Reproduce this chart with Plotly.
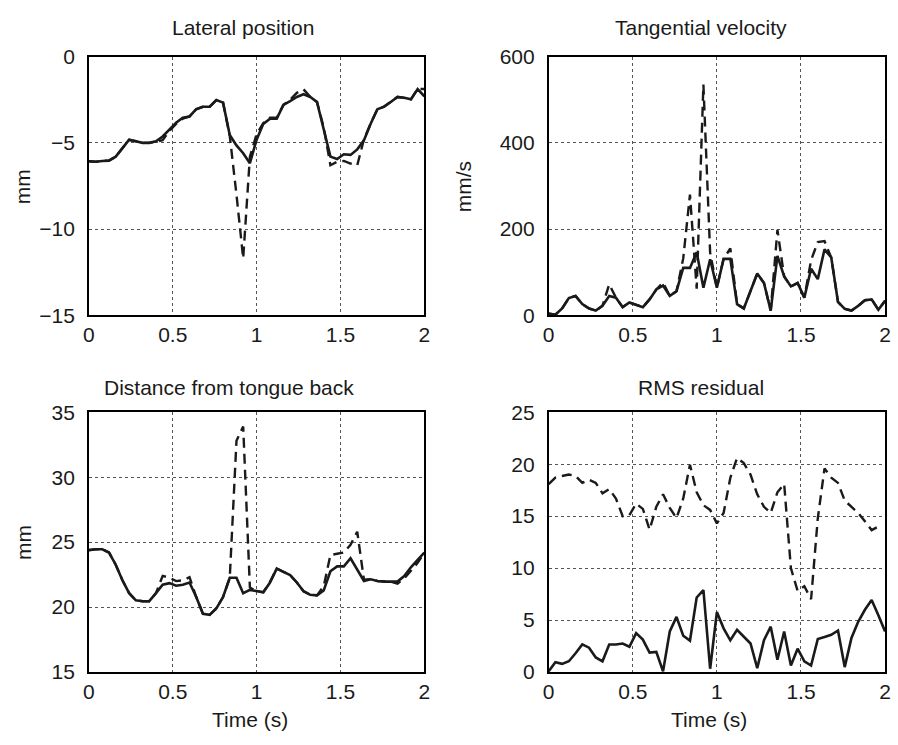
import plotly.graph_objects as go

W, H = 898, 745

time_s = [0.00, 0.04, 0.08, 0.12, 0.16, 0.20, 0.24, 0.28, 0.32, 0.36,
          0.40, 0.44, 0.48, 0.52, 0.56, 0.60, 0.64, 0.68, 0.72, 0.76,
          0.80, 0.84, 0.88, 0.92, 0.96, 1.00, 1.04, 1.08, 1.12, 1.16,
          1.20, 1.24, 1.28, 1.32, 1.36, 1.40, 1.44, 1.48, 1.52, 1.56,
          1.60, 1.64, 1.68, 1.72, 1.76, 1.80, 1.84, 1.88, 1.92, 1.96, 2.00]

lateral_solid = [-6.07, -6.10, -6.05, -6.03, -5.80, -5.29, -4.82, -4.91, -5.00, -5.00,
                 -4.91, -4.63, -4.20, -3.83, -3.55, -3.47, -3.05, -2.91, -2.91, -2.52,
                 -2.67, -4.54, -5.15, -5.60, -6.18, -4.82, -3.90, -3.60, -3.60, -2.80,
                 -2.58, -2.34, -2.18, -2.34, -2.63, -4.17, -5.80, -5.94, -5.66, -5.70,
                 -5.38, -4.85, -3.89, -3.05, -2.90, -2.63, -2.34, -2.39, -2.48, -1.88, -2.30]
lateral_dashed = [-6.07, -6.10, -6.05, -6.03, -5.80, -5.29, -4.82, -4.91, -5.00, -5.00,
                  -4.91, -4.85, -4.30, -3.90, -3.60, -3.47, -3.05, -2.91, -2.91, -2.52,
                  -2.67, -4.60, -8.00, -11.70, -5.80, -4.50, -3.85, -3.55, -3.55, -2.80,
                  -2.50, -2.10, -1.90, -2.34, -2.63, -4.10, -6.30, -6.10, -6.05, -6.20,
                  -6.30, -4.80, -3.89, -3.05, -2.90, -2.60, -2.34, -2.39, -2.48, -1.88, -1.88]

velocity_solid = [4, 1.5, 16, 40, 45, 26, 16, 11, 22, 45,
                  41, 19, 30, 25, 19, 37, 60, 69, 45, 56,
                  110, 110, 146, 64, 130, 64, 131, 131, 26, 16,
                  56, 97, 75, 11, 138, 90, 67, 75, 41, 108,
                  84, 153, 134, 31, 15, 11, 22, 35, 37, 13, 34]
velocity_dashed = [4, 1.5, 16, 40, 45, 26, 16, 11, 22, 72,
                   41, 19, 30, 25, 19, 37, 60, 76, 45, 56,
                   132, 280, 62, 535, 145, 64, 131, 155, 26, 16,
                   56, 97, 75, 11, 198, 90, 67, 75, 41, 128,
                   170, 172, 134, 31, 15, 11, 22, 35, 37, 13, 34]

distance_solid = [24.38, 24.45, 24.45, 24.20, 23.26, 22.06, 21.07, 20.52, 20.45, 20.45,
                  21.07, 21.72, 21.84, 21.64, 21.72, 21.89, 20.77, 19.48, 19.40, 19.90,
                  20.77, 22.26, 22.26, 21.07, 21.32, 21.22, 21.14, 21.89, 22.96, 22.71,
                  22.46, 21.89, 21.22, 20.94, 20.90, 21.27, 22.76, 23.13, 23.13, 23.76,
                  22.89, 22.01, 22.14, 22.01, 21.96, 21.96, 21.96, 22.39, 23.06, 23.63, 24.20]
distance_dashed = [24.38, 24.45, 24.45, 24.20, 23.26, 22.06, 21.07, 20.52, 20.45, 20.45,
                   21.07, 22.40, 22.26, 22.00, 22.06, 22.30, 20.77, 19.48, 19.40, 19.90,
                   20.77, 22.26, 32.80, 33.90, 21.50, 21.22, 21.14, 21.95, 22.96, 22.71,
                   22.46, 21.89, 21.22, 20.94, 20.90, 21.60, 24.00, 24.10, 24.20, 24.80,
                   25.80, 22.10, 22.14, 22.01, 21.96, 21.96, 21.80, 22.20, 22.80, 23.40, 24.20]

rms_solid = [0.06, 0.94, 0.78, 1.03, 1.80, 2.65, 2.34, 1.40, 1.03, 2.65,
             2.65, 2.74, 2.43, 3.74, 3.12, 1.87, 1.93, 0.06, 3.90, 5.30,
             3.49, 3.02, 7.17, 7.89, 0.31, 5.77, 4.20, 3.05, 4.05, 3.43,
             2.74, 0.37, 3.05, 4.36, 1.18, 3.90, 0.62, 2.24, 1.03, 0.62,
             3.18, 3.37, 3.58, 3.99, 0.47, 3.27, 4.83, 5.99, 6.92, 5.46, 3.90]
rms_dashed = [18.08, 18.70, 18.86, 19.00, 18.86, 18.20, 18.50, 18.20, 17.20, 17.60,
              16.70, 15.00, 15.10, 16.20, 15.70, 13.70, 15.90, 17.10, 15.80, 14.80,
              16.70, 19.95, 17.30, 16.05, 15.60, 14.30, 15.30, 18.70, 20.60, 20.10,
              19.00, 17.10, 15.90, 15.30, 17.30, 18.10, 10.00, 7.80, 8.26, 7.00,
              14.80, 19.60, 18.70, 18.20, 16.50, 15.90, 15.30, 14.50, 13.65, 14.00, None]

panel_titles = ["Lateral position", "Tangential velocity",
                "Distance from tongue back", "RMS residual"]
y_ranges = [[-15, 0], [0, 600], [15, 35], [0, 25]]
y_dticks = [5, 200, 5, 5]
x_ticks = [0, 0.5, 1, 1.5, 2]
x_tick_labels = ["0", "0.5", "1", "1.5", "2"]
y_titles = ["mm", "mm/s", "mm", ""]
x_title = "Time (s)"

series = [(lateral_solid, lateral_dashed), (velocity_solid, velocity_dashed),
          (distance_solid, distance_dashed), (rms_solid, rms_dashed)]

# plot-area pixel boxes (left, right, top, bottom)
boxes = [(84, 424, 46, 313), (550, 891, 46, 313),
         (84, 424, 413, 681), (550, 891, 413, 681)]

FONT = "Liberation Sans, Arial, Helvetica, sans-serif"
INK = "#1a1a1a"
FS = 21

fig = go.Figure()
layout = dict(width=W, height=H, margin=dict(l=0, r=0, t=0, b=0),
              paper_bgcolor="white", plot_bgcolor="white",
              showlegend=False, font=dict(family=FONT, size=FS, color=INK))

annotations = []
for i, ((solid, dashed), box) in enumerate(zip(series, boxes)):
    n = "" if i == 0 else str(i + 1)
    l, r, t, b = box
    layout["xaxis" + n] = dict(
        domain=[l / W, r / W], anchor="y" + n, range=[0, 2],
        tickvals=x_ticks, ticktext=x_tick_labels,
        showgrid=True, gridcolor="#555", griddash="dot", gridwidth=1,
        showline=True, mirror=True, linecolor="black", linewidth=1.5,
        ticks="", ticklabelstandoff=0, zeroline=False,
        tickfont=dict(family=FONT, size=FS, color=INK))
    layout["yaxis" + n] = dict(
        domain=[1 - b / H, 1 - t / H], anchor="x" + n, range=y_ranges[i],
        dtick=y_dticks[i], tick0=y_ranges[i][0],
        showgrid=True, gridcolor="#555", griddash="dot", gridwidth=1,
        showline=True, mirror=True, linecolor="black", linewidth=1.5,
        ticks="", ticklabelstandoff=8, zeroline=False,
        tickfont=dict(family=FONT, size=FS, color=INK))
    fig.add_trace(go.Scatter(x=time_s, y=dashed, mode="lines",
                             line=dict(color=INK, width=2.4, dash="10px,6px"),
                             xaxis="x" + n, yaxis="y" + n, connectgaps=False,
                             hoverinfo="skip"))
    fig.add_trace(go.Scatter(x=time_s, y=solid, mode="lines",
                             line=dict(color=INK, width=2.6),
                             xaxis="x" + n, yaxis="y" + n, hoverinfo="skip"))

title_pos = [(240, 16), (704, 16), (226, 387), (704, 387)]
for txt, (px, py) in zip(panel_titles, title_pos):
    annotations.append(dict(text=txt, x=px / W, y=1 - py / H, xref="paper", yref="paper",
                            showarrow=False, xanchor="center", yanchor="middle",
                            font=dict(family=FONT, size=FS, color=INK)))

ytitle_pos = [(17, 180), (464, 180), (17, 547)]
for txt, (px, py) in zip(y_titles, ytitle_pos):
    annotations.append(dict(text=txt, x=px / W, y=1 - py / H, xref="paper", yref="paper",
                            showarrow=False, xanchor="center", yanchor="middle",
                            textangle=-90, font=dict(family=FONT, size=FS, color=INK)))

for px in (247, 713):
    annotations.append(dict(text=x_title, x=px / W, y=1 - 730 / H, xref="paper", yref="paper",
                            showarrow=False, xanchor="center", yanchor="middle",
                            font=dict(family=FONT, size=FS, color=INK)))

layout["annotations"] = annotations
fig.update_layout(**layout)
fig.write_html("out.html")
